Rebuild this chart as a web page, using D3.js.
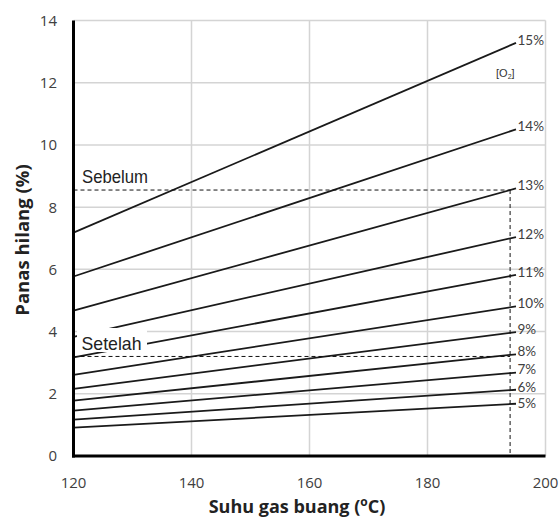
<!DOCTYPE html>
<html><head><meta charset="utf-8">
<script src="https://cdn.jsdelivr.net/npm/d3@7/dist/d3.min.js"></script>
<style>body{margin:0;background:#fff}svg{display:block}</style>
</head><body>
<svg id="chart" width="560" height="521"></svg>
<script>
// ---- data ----
const xTicks = [120, 140, 160, 180, 200];
const yTicks = [0, 2, 4, 6, 8, 10, 12, 14];
const o2Labels = ["15%", "14%", "13%", "12%", "11%", "10%", "9%", "8%", "7%", "6%", "5%"];
const tempStart = 120;
const tempEnd = 195;
const lossAtStart = [7.18, 5.77, 4.67, 3.83, 3.17, 2.61, 2.16, 1.78, 1.46, 1.17, 0.91];
const lossAtEnd = [13.28, 10.5, 8.6, 7.04, 5.82, 4.81, 3.98, 3.27, 2.68, 2.13, 1.68];
const markTemp = 194;
const beforeLoss = 8.55;   // Sebelum (13% O2)
const afterLoss = 3.2;     // Setelah (8% O2)

// ---- layout ----
const svg = d3.select("#chart");
const x = d3.scaleLinear().domain([120, 200]).range([73.5, 545.5]);
const y = d3.scaleLinear().domain([0, 14]).range([456, 20.5]);

// gridlines
svg.append("g").selectAll("line").data(yTicks.filter(d => d > 0)).join("line")
  .attr("x1", x(120)).attr("x2", x(200)).attr("y1", d => y(d)).attr("y2", d => y(d))
  .attr("stroke", "#d4d4d4").attr("stroke-width", 1.5);
svg.append("g").selectAll("line").data(xTicks.filter(d => d > 120)).join("line")
  .attr("x1", d => x(d)).attr("x2", d => x(d)).attr("y1", y(0)).attr("y2", y(14))
  .attr("stroke", "#d4d4d4").attr("stroke-width", 1.5);

// series lines
const series = o2Labels.map((lab, i) => ({lab, pts: [[tempStart, lossAtStart[i]], [tempEnd, lossAtEnd[i]]]}));
const line = d3.line().x(d => x(d[0])).y(d => y(d[1]));
svg.append("g").selectAll("path").data(series).join("path")
  .attr("d", d => line(d.pts)).attr("fill", "none")
  .attr("stroke", "#1a1a1a").attr("stroke-width", 1.8);

// dashed reference lines
const dash = svg.append("g").attr("stroke", "#111").attr("stroke-width", 1).attr("stroke-dasharray", "4,3").attr("fill", "none");
dash.append("line").attr("x1", x(120)).attr("x2", x(markTemp)).attr("y1", y(beforeLoss)).attr("y2", y(beforeLoss));
dash.append("line").attr("x1", x(120)).attr("x2", x(markTemp)).attr("y1", y(afterLoss)).attr("y2", y(afterLoss));
dash.append("line").attr("x1", x(markTemp)).attr("x2", x(markTemp)).attr("y1", y(beforeLoss)).attr("y2", y(0));

// Setelah label with white box
svg.append("rect").attr("x", 77).attr("y", 328).attr("width", 70).attr("height", 24).attr("fill", "#fff");
const annFont = "'Liberation Sans Narrow', 'Arial Narrow', 'Liberation Sans', Arial, sans-serif";
svg.append("text").attr("x", 82).attr("y", 183).text("Sebelum")
  .attr("font-family", annFont).attr("font-size", 19).attr("fill", "#222")
  .attr("textLength", 66).attr("lengthAdjust", "spacingAndGlyphs");
svg.append("text").attr("x", 81.5).attr("y", 349.5).text("Setelah")
  .attr("font-family", annFont).attr("font-size", 19).attr("fill", "#222")
  .attr("textLength", 60).attr("lengthAdjust", "spacingAndGlyphs");

// axes lines
svg.append("line").attr("x1", x(120)).attr("x2", x(120)).attr("y1", y(14)).attr("y2", y(0) + 1.5)
  .attr("stroke", "#000").attr("stroke-width", 3);
svg.append("line").attr("x1", x(120) - 1.5).attr("x2", x(200)).attr("y1", y(0)).attr("y2", y(0))
  .attr("stroke", "#000").attr("stroke-width", 3);

const tickFont = "'Open Sans', Lato, sans-serif";
// y tick labels
svg.append("g").selectAll("text").data(yTicks).join("text")
  .attr("x", 57).attr("y", d => y(d)).attr("dy", "0.36em").attr("text-anchor", "end")
  .attr("font-family", tickFont).attr("font-size", 15).attr("fill", "#404040").text(d => d);
// x tick labels
svg.append("g").selectAll("text").data(xTicks).join("text")
  .attr("x", d => x(d)).attr("y", 483).attr("dy", "0.36em").attr("text-anchor", "middle")
  .attr("font-family", tickFont).attr("font-size", 15).attr("fill", "#404040").text(d => d);

// O2 labels at line ends (simple top-down spacing pass to avoid collisions)
const minGap = 16.5;
let prevY = -Infinity;
series.forEach(s => {
  let ly = y(s.pts[1][1]) - 3;
  if (ly < prevY + minGap) ly = prevY + minGap;
  s.labelY = ly; prevY = ly;
});
svg.append("g").selectAll("text").data(series).join("text")
  .attr("x", x(tempEnd) + 1.5).attr("y", d => d.labelY).attr("dy", "0.36em")
  .attr("font-family", "Lato, 'Open Sans', sans-serif").attr("font-size", 13.5).attr("fill", "#404040").text(d => d.lab);

// [O2]
const o2t = svg.append("text").attr("x", 496).attr("y", 77)
  .attr("font-family", "'Liberation Sans', Arial, sans-serif").attr("font-size", 11).attr("fill", "#333");
o2t.append("tspan").text("[O");
o2t.append("tspan").text("2").attr("font-size", 7).attr("dy", 2);
o2t.append("tspan").text("]").attr("dy", -2);

// axis titles
const xt = svg.append("text").attr("x", 297).attr("y", 513).attr("text-anchor", "middle")
  .attr("font-family", tickFont).attr("font-weight", "bold").attr("font-size", 18).attr("fill", "#222");
xt.append("tspan").text("Suhu gas buang (");
xt.append("tspan").text("o").attr("font-size", 12).attr("dy", -7);
xt.append("tspan").text("C)").attr("dy", 7);

svg.append("text").attr("transform", "translate(29,240) rotate(-90)").attr("text-anchor", "middle")
  .attr("font-family", tickFont).attr("font-weight", "bold").attr("font-size", 18.5).attr("fill", "#222")
  .text("Panas hilang (%)");
</script>
</body></html>
